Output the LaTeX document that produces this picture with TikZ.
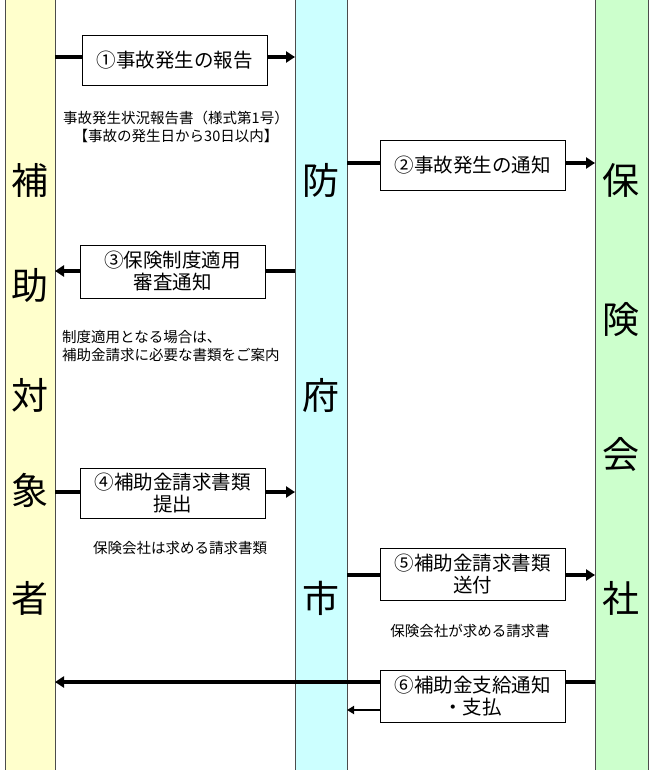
\documentclass[tikz,border=0pt]{standalone}
\usepackage{fontspec}
\setmainfont{Noto Sans CJK JP}
\usetikzlibrary{arrows.meta}
\definecolor{cy}{HTML}{FFFFCC}
\definecolor{cc}{HTML}{CCFFFF}
\definecolor{cg}{HTML}{CCFFCC}
\begin{document}
\begin{tikzpicture}[x=1pt,y=-1pt,
  col/.style={draw=black!70,line width=0.8pt},
  box/.style={draw,line width=0.8pt,fill=white,minimum width=185pt,align=center,font=\fontsize{19.5}{22}\selectfont,inner sep=0pt},
  big/.style={font=\fontsize{37}{37}\selectfont},
  note/.style={font=\fontsize{14.5}{18}\selectfont,align=left},
  ar/.style={line width=3.5pt,-{Triangle[length=9pt,width=11pt]}},
  ln/.style={line width=3.5pt}]
\useasboundingbox (0,0) rectangle (650,770);
\fill[white] (0,0) rectangle (650,770);
\draw[col,fill=cy] (5,-2) rectangle (55,772);
\draw[col,fill=cc] (295,-2) rectangle (347,772);
\draw[col,fill=cg] (595,-2) rectangle (648,772);
\foreach \t/\y in {補/180,助/285,対/395,象/490,者/598} \node[big] at (30,\y) {\t};
\foreach \t/\y in {防/180,府/395,市/598} \node[big] at (321,\y) {\t};
\foreach \t/\y in {保/180,険/320,会/455,社/598} \node[big] at (621,\y) {\t};
\coordinate (L1) at (55,57); \coordinate (M1) at (295,57);
\node[box,minimum height=50pt] (b1) at (174.5,60) {①事故発生の報告};
\draw[ln] (L1) -- (b1.west|-L1); \draw[ar] (b1.east|-L1) -- (M1);
\node[note,align=center] (n1) at (176,127) {事故発生状況報告書（様式第1号）\\【事故の発生日から30日以内】};
\coordinate (M2) at (347,163); \coordinate (R2) at (595,163);
\node[box,minimum height=50pt] (b2) at (472.5,165) {②事故発生の通知};
\draw[ln] (M2) -- (b2.west|-M2); \draw[ar] (b2.east|-M2) -- (R2);
\coordinate (M3) at (295,271); \coordinate (L3) at (55,271);
\node[box,minimum height=53pt] (b3) at (172.5,271.5) {③保険制度適用\\審査通知};
\draw[ln] (M3) -- (b3.east|-M3); \draw[ar] (b3.west|-M3) -- (L3);
\node[note,anchor=west,inner sep=0pt] (n3) at (62,346) {制度適用となる場合は、\\補助金請求に必要な書類をご案内};
\coordinate (L4) at (55,492); \coordinate (M4) at (295,492);
\node[box,minimum height=50pt] (b4) at (172.5,493) {④補助金請求書類\\提出};
\draw[ln] (L4) -- (b4.west|-L4); \draw[ar] (b4.east|-L4) -- (M4);
\node[note] (n4) at (180,548) {保険会社は求める請求書類};
\coordinate (M5) at (347,575); \coordinate (R5) at (595,575);
\node[box,minimum height=52pt] (b5) at (472.5,574) {⑤補助金請求書類\\送付};
\draw[ln] (M5) -- (b5.west|-M5); \draw[ar] (b5.east|-M5) -- (R5);
\node[note] (n5) at (470,631) {保険会社が求める請求書};
\coordinate (R6) at (595,682); \coordinate (L6) at (55,682); \coordinate (M6) at (347,710);
\draw[ar] (R6) -- (L6);
\node[box,minimum height=52pt] (b6) at (472.5,696) {⑥補助金支給通知\\・支払};
\draw[line width=2.5pt,-{Triangle[length=7pt,width=8pt]}] (b6.west|-M6) -- (M6);
\end{tikzpicture}
\end{document}
